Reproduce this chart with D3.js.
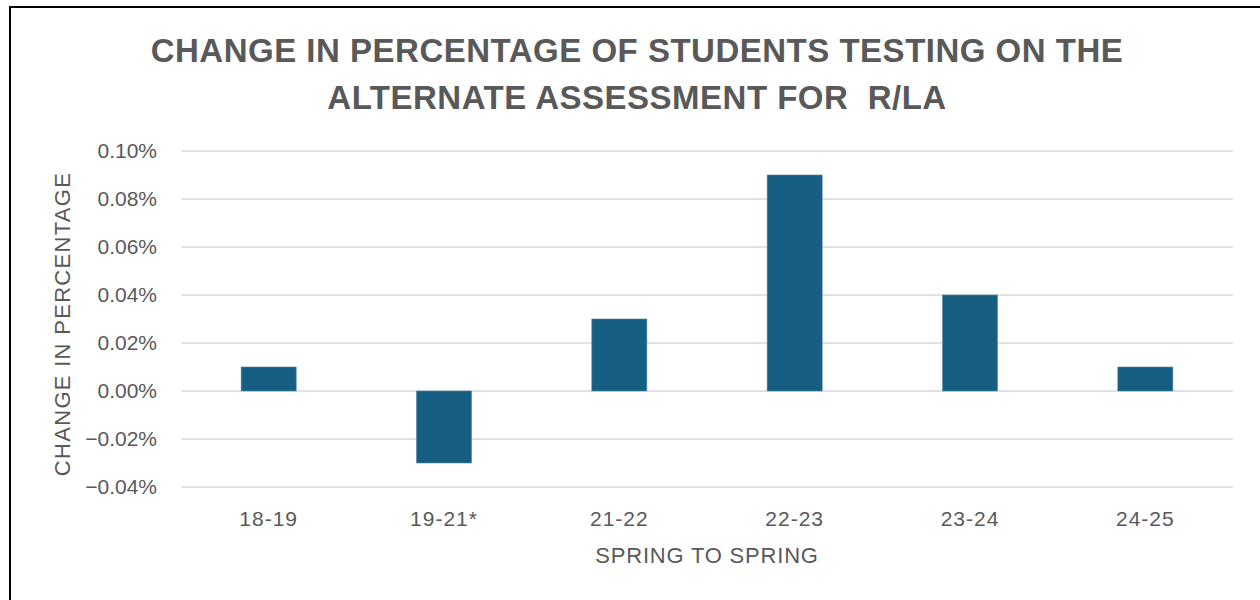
<!DOCTYPE html>
<html>
<head>
<meta charset="utf-8">
<script src="https://cdn.jsdelivr.net/npm/d3@7"></script>
<style>
  body { margin: 0; background: #fff; }
  text { font-family: "Liberation Sans", Arial, sans-serif; }
</style>
</head>
<body>
<script>
// data
var categories = ["18-19", "19-21*", "21-22", "22-23", "23-24", "24-25"];
var values = [0.01, -0.03, 0.03, 0.09, 0.04, 0.01];   // percent
var yTicks = [-0.04, -0.02, 0, 0.02, 0.04, 0.06, 0.08, 0.10];
var titleLines = ["CHANGE IN PERCENTAGE OF STUDENTS TESTING ON THE", "ALTERNATE ASSESSMENT FOR  R/LA"];

var width = 1260, height = 600;
var plot = {left: 181, right: 1233, top: 151, bottom: 487};
var grey = "#595959";

var svg = d3.select("body").append("svg")
    .attr("width", width)
    .attr("height", height);

// frame of the chart box (cut off at right and bottom)
svg.append("rect")
    .attr("x", 10).attr("y", 7)
    .attr("width", 1300).attr("height", 700)
    .attr("fill", "none")
    .attr("stroke", "#000")
    .attr("stroke-width", 2);

// title, two lines
svg.append("g")
  .selectAll("text")
  .data(titleLines)
  .enter().append("text")
    .attr("x", 637)
    .attr("y", function(d, i) { return 62 + i * 47; })
    .attr("text-anchor", "middle")
    .attr("font-size", 33)
    .attr("font-weight", "bold")
    .attr("letter-spacing", 0.5)
    .attr("fill", grey)
    .style("white-space", "pre")
    .text(function(d) { return d; });

var x = d3.scaleBand()
    .domain(categories)
    .range([plot.left, plot.right])
    .paddingInner(0.686)
    .paddingOuter(0.343);

var y = d3.scaleLinear()
    .domain([-0.04, 0.10])
    .range([plot.bottom, plot.top]);

// gridlines
svg.append("g")
  .selectAll("line")
  .data(yTicks)
  .enter().append("line")
    .attr("x1", plot.left).attr("x2", plot.right)
    .attr("y1", function(d) { return y(d); })
    .attr("y2", function(d) { return y(d); })
    .attr("stroke", "#d9d9d9")
    .attr("stroke-width", 1.3);

// y axis labels
var yAxis = svg.append("g")
    .attr("transform", "translate(" + (plot.left - 24) + ",0)")
    .call(d3.axisLeft(y).tickValues(yTicks).tickSize(0).tickPadding(0)
      .tickFormat(function(d) { return d3.format(".2f")(d) + "%"; }));
yAxis.select(".domain").remove();
yAxis.selectAll("text")
    .attr("font-size", 21)
    .attr("fill", grey)
    .style("font-family", "'Liberation Sans', Arial, sans-serif");

// bars
svg.append("g")
  .selectAll("rect")
  .data(values)
  .enter().append("rect")
    .attr("x", function(d, i) { return x(categories[i]); })
    .attr("width", x.bandwidth())
    .attr("y", function(d) { return y(Math.max(0, d)); })
    .attr("height", function(d) { return Math.abs(y(d) - y(0)); })
    .attr("fill", "#165f82")
    .attr("stroke", "#4f89a6")
    .attr("stroke-width", 0.6);

// x axis labels
var xAxis = svg.append("g")
    .attr("transform", "translate(0,526)")
    .call(d3.axisBottom(x).tickSize(0).tickPadding(0));
xAxis.select(".domain").remove();
xAxis.selectAll("text")
    .attr("dy", 0)
    .attr("font-size", 21)
    .attr("letter-spacing", 1)
    .attr("fill", grey)
    .style("font-family", "'Liberation Sans', Arial, sans-serif");

// axis titles
svg.append("text")
    .attr("x", 707).attr("y", 563)
    .attr("text-anchor", "middle")
    .attr("font-size", 22)
    .attr("letter-spacing", 0.8)
    .attr("fill", grey)
    .text("SPRING TO SPRING");

svg.append("text")
    .attr("transform", "translate(70,324) rotate(-90)")
    .attr("text-anchor", "middle")
    .attr("font-size", 22)
    .attr("letter-spacing", 1.3)
    .attr("fill", grey)
    .text("CHANGE IN PERCENTAGE");
</script>
</body>
</html>
